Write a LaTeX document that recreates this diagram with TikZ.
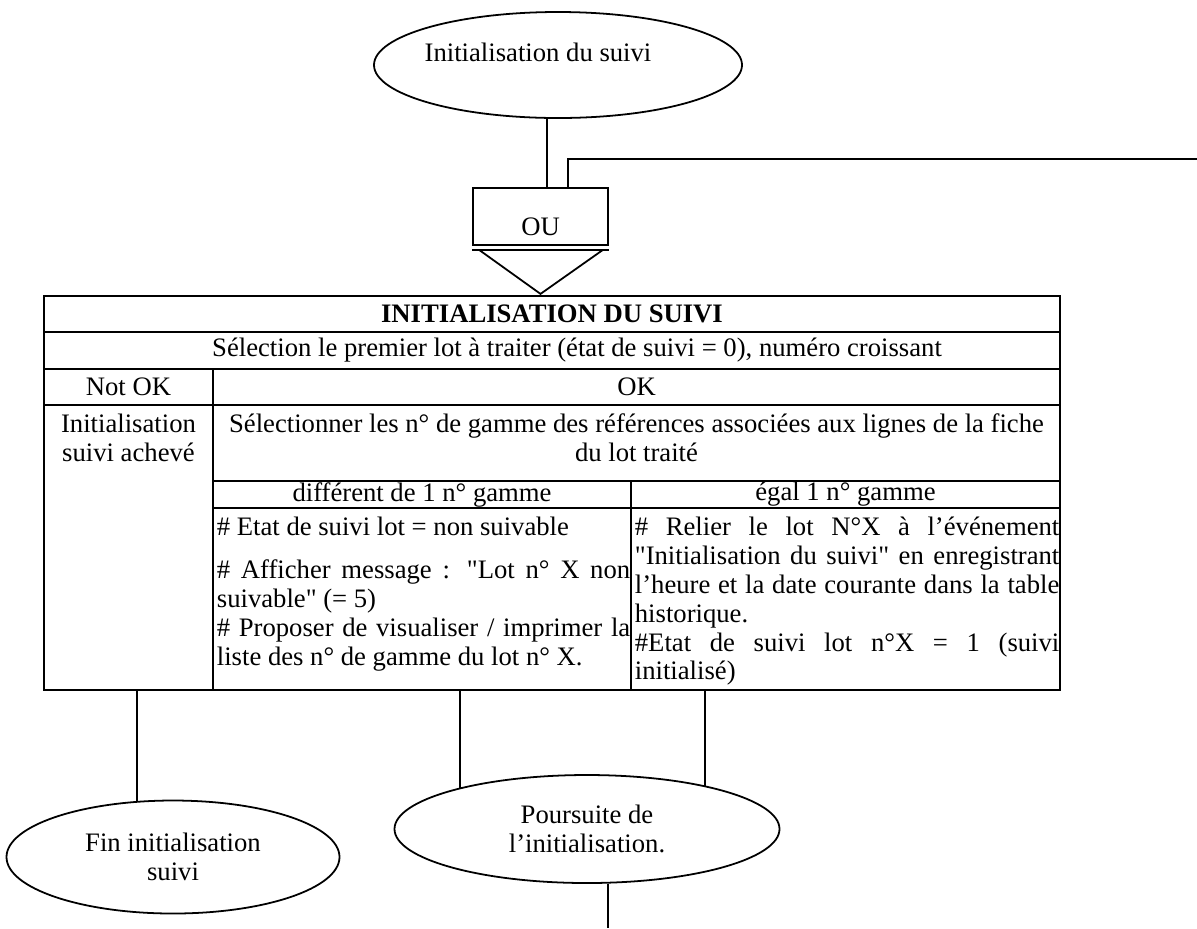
\documentclass[tikz,border=0pt]{standalone}
\usepackage{fontspec}
\setmainfont{Liberation Serif}[Ligatures=TeXOff]
\usetikzlibrary{shapes.geometric,calc}

\begin{document}
\begin{tikzpicture}[x=0.45pt,y=-0.45pt,line width=0.8pt,
  font=\fontsize{12}{13}\selectfont,
  bulle/.style={draw,ellipse,inner sep=0pt,align=center},
  texte/.style={inner sep=0pt,anchor=north,align=center},
  cellule/.style={inner sep=0pt,anchor=north west,text width=#1,align=justify}]
  \useasboundingbox (0,0) rectangle (1197,928);

  % debut et porte OU
  \node[bulle,minimum width=165.6pt,minimum height=47.7pt,text height=0pt,text depth=2.8pt] (debut) at (558,65) {\makebox[0pt]{Initialisation du suivi\hspace{18pt}}};
  \node[draw,inner sep=0pt,minimum width=60.75pt,minimum height=25.65pt,text height=17pt,text depth=0pt] (ou) at (540.5,216.5) {OU};
  \coordinate (pointe) at ($(ou.south)+(0,48)$);
  \draw ($(ou.south west)+(0,4)$) -- ($(ou.south east)+(0,4)$);
  \draw ($(ou.south west)+(7,4)$) -- (pointe) -- ($(ou.south east)+(-6,4)$);
  \coordinate (entree) at ($(ou.north)+(6.5,0)$);
  \draw (entree |- debut.south) -- (entree);
  \coordinate (retour) at (1197,159);
  \draw ($(ou.north)+(27.5,0)$) |- (retour);

  % tableau
  \draw (44,296) rectangle (1060,690);
  \foreach \y in {332,369,405}
    \draw (44,\y) -- (1060,\y);
  \draw (213,481) -- (1060,481);
  \draw (213,508) -- (1060,508);
  \draw (213,369) -- (213,690);
  \draw (631,481) -- (631,690);

  \node (titre) at (552,314) {\bfseries INITIALISATION DU SUIVI};
  \node (selection) at (577,350.5) {Sélection le premier lot à traiter (état de suivi = 0), numéro croissant};
  \node (notok) at (128.5,387) {Not OK};
  \node (ok) at (636.5,387) {OK};
  \node[texte] (acheve) at (128.5,413) {Initialisation\\suivi achevé};
  \node[texte] (gammes) at (636.5,413) {Sélectionner les n° de gamme des références associées aux lignes de la fiche\\du lot traité};
  \node (different) at (422,494.5) {différent de 1 n° gamme};
  \node (egal) at (845.5,494.5) {égal 1 n° gamme};
  \node[cellule=186pt] (nonsuivable) at (216,516) {\# Etat de suivi lot = non suivable\par\vspace{6.5pt}
    \# Afficher message : "Lot n° X non\linebreak suivable" (= 5)\par
    \# Proposer de visualiser / imprimer la\linebreak liste des n° de gamme du lot n° X.};
  \node[cellule=191pt] (relier) at (634,516) {\# Relier le lot N°X à l’événement\linebreak "Initialisation du suivi" en enregistrant\linebreak l’heure et la date courante dans la table\linebreak historique.\par
    \#Etat de suivi lot n°X = 1 (suivi\linebreak initialisé)};

  % fins
  \node[bulle,minimum width=149.85pt,minimum height=50.85pt] (fin) at (173,857) {Fin initialisation\\suivi};
  \node[bulle,minimum width=173.25pt,minimum height=48.6pt] (suite) at (587,829) {Poursuite de\\l’initialisation.};
  \coordinate (sortiefin) at (137,690);
  \coordinate (sortie1) at (460,690);
  \coordinate (sortie2) at (705,690);
  \coordinate (suivant) at (608,928);
  \draw (sortiefin) -- (sortiefin |- fin.123);
  \draw (sortie1) -- (sortie1 |- suite.162);
  \draw (sortie2) -- (sortie2 |- suite.19);
  \draw (suivant |- suite.-67) -- (suivant);
\end{tikzpicture}
\end{document}
